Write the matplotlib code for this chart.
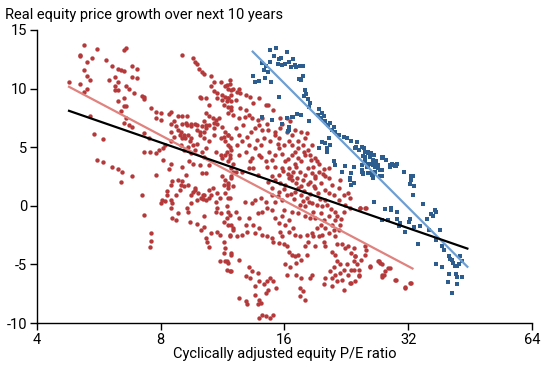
import numpy as np
import matplotlib
matplotlib.use("Agg")
import matplotlib.pyplot as plt

plt.rcParams['font.family'] = ['Roboto', 'DejaVu Sans']

# (P/E ratio, real equity price growth over next 10 years)
red_points = [
    (5.2, 13.7), (5.6, 13.4), (5.1, 12.9), (5.1, 12.8), (5.45, 12.6), (5.3, 12.3), (5.9, 12.4), (6.5, 13.3),
    (6.6, 13.5), (5.2, 11.6), (5.3, 11.1), (5.4, 10.7), (4.8, 10.6), (5.1, 10.4), (5.3, 10.0), (5.2, 9.7),
    (6.1, 11.9), (6.3, 11.7), (6.4, 11.6), (6.5, 11.5), (6.8, 11.9), (7.0, 11.7), (6.8, 11.0), (7.0, 10.9),
    (6.2, 11.0), (6.0, 10.7), (6.3, 10.6), (6.2, 10.2), (6.2, 9.9), (6.3, 9.9), (6.6, 10.2), (6.7, 10.0),
    (6.9, 9.6), (7.2, 9.4), (7.3, 9.3), (7.3, 9.1), (6.5, 9.2), (6.3, 8.9), (6.5, 8.5), (6.6, 8.5),
    (6.4, 8.1), (5.4, 7.7), (6.6, 7.5), (6.5, 7.1), (6.7, 6.9), (6.8, 6.7), (5.5, 6.1), (5.8, 5.7),
    (7.6, 8.3), (7.8, 8.0), (8.0, 7.9), (7.8, 7.5), (8.0, 7.3), (7.3, 6.2), (7.5, 5.8),
    (8.5, 8.0), (8.4, 7.8), (8.8, 7.7), (9.0, 7.7), (9.3, 7.7), (8.6, 7.2), (8.5, 7.0), (8.7, 6.8),
    (9.0, 7.0), (9.2, 7.1), (9.3, 6.9), (9.5, 7.0), (9.5, 6.8), (9.7, 7.0), (9.8, 6.9), (10.1, 6.8),
    (9.8, 6.5), (10.0, 6.3), (8.8, 6.5), (8.95, 6.3), (8.9, 6.0), (9.1, 6.0), (9.0, 5.8), (9.15, 5.8),
    (8.6, 5.9), (8.5, 6.3), (9.35, 6.0), (9.5, 5.8), (9.45, 5.5), (9.6, 5.2), (9.8, 5.3), (10.0, 6.0),
    (10.2, 5.8), (10.2, 6.3), (10.3, 6.6), (10.5, 6.9), (10.8, 7.1), (10.9, 7.3), (11.1, 7.5),
    (9.0, 12.9), (9.6, 12.6), (9.7, 12.3), (9.8, 12.1), (9.9, 11.7), (10.1, 11.4), (10.2, 11.2), (10.6, 11.1),
    (10.6, 10.2), (10.8, 10.6), (11.2, 10.6), (11.5, 10.2), (11.7, 10.0), (11.8, 10.4), (11.9, 9.9), (10.8, 9.8),
    (11.0, 9.6), (11.3, 9.45), (11.5, 9.3), (11.7, 9.2), (11.9, 8.9), (11.6, 8.9), (11.3, 9.0), (11.0, 9.2),
    (11.4, 8.6), (11.7, 8.45), (11.9, 8.2), (10.5, 8.6), (10.3, 9.2), (10.05, 9.2), (10.0, 9.3),
    (10.3, 7.9), (10.5, 7.7), (10.7, 7.5), (10.2, 7.2), (10.3, 6.9), (10.8, 6.6), (11.0, 7.0), (11.3, 6.75),
    (11.5, 6.3), (11.7, 6.0), (11.4, 5.9), (11.2, 5.8), (11.5, 5.5), (11.7, 5.2), (11.8, 5.0), (11.9, 4.8),
    (10.8, 6.0), (10.5, 5.5), (10.3, 4.9), (10.9, 4.6), (11.2, 4.3), (11.3, 4.1), (11.5, 4.3), (11.8, 4.1),
    (11.7, 3.8), (12.0, 3.6), (11.9, 3.2), (12.0, 2.9),
    (7.3, 4.6), (7.55, 4.6), (7.8, 4.5), (7.95, 4.8), (8.1, 4.9), (8.1, 3.9), (5.6, 3.9), (5.8, 3.7),
    (6.1, 3.3), (6.3, 3.1), (6.45, 2.9), (6.8, 2.5), (7.8, 2.6), (8.4, 3.1), (8.5, 3.6), (9.0, 3.35),
    (9.2, 2.6), (9.4, 3.8), (9.6, 3.6), (10.0, 3.5), (10.1, 2.8), (10.3, 2.8), (10.5, 3.5), (10.2, 4.2),
    (10.1, 4.6), (9.7, 4.8), (9.5, 4.5), (9.1, 4.8), (9.35, 5.0), (8.95, 5.2), (8.5, 5.5), (8.2, 5.2),
    (6.4, 2.0), (7.2, 0.9), (7.3, -0.8), (7.6, -2.3), (7.6, -3.0), (7.55, -3.5), (8.0, 0.2), (8.05, 0.5),
    (8.2, 0.4), (8.3, 0.9), (8.5, 0.5), (8.55, 0.2), (8.5, -0.2), (8.55, -1.05), (8.7, -1.2), (8.8, -0.6),
    (8.3, 1.3), (8.5, 1.8), (8.55, 2.1), (8.8, 2.2), (8.95, 1.8), (8.9, 1.35), (8.7, 0.9), (9.0, 2.1),
    (9.1, 1.65), (9.35, 1.8), (9.5, 0.95), (9.7, 1.35), (9.85, 1.1), (10.05, 0.65), (10.15, 0.95), (9.8, 0.5),
    (9.5, 0.2), (9.3, -0.15), (9.35, -0.55), (9.45, -1.35), (9.8, -1.55), (9.7, 1.5), (9.6, 1.2),
    (10.2, 0.95), (10.15, 0.6), (10.3, 0.5), (10.5, 0.65), (10.6, 0.95), (10.5, 1.35), (10.75, 1.5), (11.0, 1.1),
    (11.15, 0.65), (10.9, 0.35), (10.2, -0.9), (10.2, -1.8), (10.05, -2.05), (10.3, -2.75), (10.4, -3.05),
    (10.5, -3.55), (10.6, -2.3), (11.0, -2.2), (11.15, -2.45), (10.9, -0.5), (11.0, -0.2), (11.25, -0.6),
    (11.4, -1.35), (11.6, -1.05), (11.7, -0.5), (11.8, -0.75), (11.4, -3.05), (11.5, -3.6), (11.4, -4.0),
    (11.15, -4.75), (11.5, -4.75), (11.7, -4.9), (11.6, -5.45), (11.9, -5.6), (11.9, -4.0), (11.8, -2.45),
    (11.9, -1.6), (12.0, -2.05), (11.3, 2.5), (11.5, 2.2), (11.7, 1.95), (11.9, 2.35), (11.4, 1.8), (11.7, 1.5),
    (11.5, 1.1), (11.7, 0.65), (12.0, 1.65),
    (11.8, 10.7), (11.6, 10.3), (12.0, 10.0), (12.3, 9.7), (12.4, 10.0), (11.9, 9.45), (11.7, 9.2), (12.2, 9.0),
    (12.5, 9.6), (12.9, 9.45), (13.2, 9.3), (13.85, 9.2), (13.4, 8.75), (14.4, 8.6), (14.6, 8.6), (12.9, 8.2),
    (12.5, 8.3), (11.9, 8.45), (11.7, 7.9), (12.0, 7.75), (12.4, 7.5), (12.8, 7.6), (13.1, 7.75), (13.35, 7.5),
    (13.8, 7.3), (14.1, 7.5), (13.85, 6.9), (13.6, 6.6), (14.1, 6.5), (14.5, 7.0), (14.6, 6.5), (15.2, 6.3),
    (15.0, 8.2), (15.6, 7.5), (15.8, 7.0), (16.2, 7.5), (16.5, 7.2), (15.6, 6.6), (15.2, 6.0), (15.5, 5.8),
    (16.2, 6.3), (16.7, 6.0), (17.0, 6.5), (17.6, 6.3), (18.2, 6.2), (17.3, 5.5), (17.8, 5.2), (18.3, 4.8),
    (18.7, 5.2), (18.5, 4.3), (19.0, 4.1), (19.2, 3.8), (18.8, 3.35), (18.3, 3.2), (17.6, 3.8), (17.0, 4.6),
    (16.7, 5.2), (16.4, 5.5), (16.0, 5.2), (15.5, 4.9), (15.2, 4.3), (14.9, 3.9), (14.4, 3.8), (14.5, 3.35),
    (15.2, 3.35), (15.8, 3.2), (16.4, 3.2), (16.8, 2.9), (17.5, 2.9), (18.0, 2.6), (18.7, 2.8), (19.4, 2.9),
    (20.0, 3.1), (14.0, 5.2), (13.6, 4.9), (13.1, 5.2), (12.6, 5.5), (12.4, 6.0), (11.9, 5.8), (11.7, 6.0),
    (11.6, 4.6), (11.8, 4.3), (12.4, 4.3), (12.9, 4.6), (13.35, 4.1), (13.85, 4.3), (13.8, 2.6), (13.4, 3.2),
    (13.1, 3.2), (12.6, 2.9), (12.2, 2.9), (16.7, 4.3), (17.3, 4.1), (18.0, 4.3), (17.1, 3.35), (16.1, 3.8),
    (15.5, 2.6), (14.9, 2.5), (16.4, 2.35), (19.0, 2.35), (20.1, 2.5), (20.5, 3.2), (18.0, 5.8),
    (11.9, 2.5), (11.7, 1.8), (11.8, 0.65), (11.6, -0.05), (12.2, -0.5), (12.4, -1.05), (11.7, -1.6), (12.0, -1.9),
    (12.6, -2.45), (12.3, -2.6), (11.8, -2.6), (11.9, -4.2), (12.4, -4.6), (11.6, -4.75), (11.8, -5.6), (13.1, -5.2),
    (13.35, -5.6), (12.9, -6.0), (13.2, -6.15), (13.8, -5.7), (13.85, -6.45), (13.6, -6.85), (14.3, -6.7),
    (14.5, -6.45), (14.8, -6.15), (15.0, -6.45), (15.3, -7.0), (14.6, -7.15), (14.4, -7.4), (13.6, -7.6),
    (13.85, -8.0), (14.0, -8.3), (13.8, -8.4), (12.4, -7.85), (12.9, -8.15), (13.0, -8.4), (14.1, -9.3),
    (13.85, -9.6), (14.8, -9.6), (15.0, -9.3), (14.4, -9.4), (12.8, 0.35), (13.35, 0.2), (13.6, 0.5),
    (14.0, 0.65), (14.4, 0.35), (14.5, -0.2), (14.1, -0.5), (13.8, -0.6), (13.1, -1.05), (12.9, -1.6),
    (13.4, -1.6), (13.85, -1.9), (13.0, -2.2), (13.6, -2.3), (14.1, -2.45), (14.5, -2.6), (14.9, -2.75),
    (15.0, -3.05), (15.5, -3.2), (16.0, -3.3), (16.2, -3.45), (16.4, -3.9), (16.7, -4.2), (17.0, -4.3),
    (17.3, -4.2), (17.6, -4.6), (17.1, -4.9), (16.5, -5.2), (16.1, -5.0), (16.2, -5.9), (17.1, -5.9),
    (17.6, -6.15), (17.5, -7.0), (17.8, -7.3), (17.5, -7.7), (18.0, -8.0), (18.5, -6.15), (18.7, -5.9),
    (18.2, -4.2), (19.0, -3.45), (19.4, -2.6), (18.8, -2.6), (19.8, -2.45), (20.0, -3.05), (20.1, -3.45),
    (20.9, -3.9), (21.3, -4.2), (21.5, -4.75), (21.9, -5.0), (21.1, -5.2), (20.7, -5.6), (21.3, -5.9),
    (21.9, -5.7), (22.3, -5.45), (22.7, -5.0), (22.1, -6.3), (21.5, -6.45), (20.9, -6.15), (20.1, -6.15),
    (20.0, -6.7), (20.9, -6.85), (22.3, -7.15), (23.1, -6.6), (22.9, -5.9), (23.3, -5.45), (23.8, -4.3),
    (23.6, -4.75), (24.3, -5.9), (22.5, -3.6), (22.1, -3.3), (21.3, -2.6), (21.7, -2.05), (21.1, -2.05),
    (20.5, -2.3), (21.9, -1.6), (20.9, -1.6), (20.1, -1.9), (19.6, -1.6), (19.2, -1.9), (18.7, -2.3),
    (18.2, -2.45), (18.3, -3.05), (18.0, -3.45), (17.5, -2.6), (17.0, -2.45), (16.8, -1.9), (16.4, -2.2),
    (15.8, -2.6), (15.6, -2.2), (16.1, -1.6), (15.5, -1.45), (15.2, -1.05), (15.8, -0.9), (16.4, -1.2),
    (16.7, -0.5), (16.0, -0.35), (14.9, -0.35), (15.2, 0.35), (15.8, 0.5), (16.2, 0.95), (15.5, 1.2),
    (14.9, 1.5), (14.6, 2.05), (15.2, 2.2), (15.6, 1.95), (16.1, 1.8), (16.7, 2.2), (17.1, 1.95), (17.6, 1.65),
    (17.0, 1.2), (17.6, 0.95), (18.2, 0.65), (18.7, 0.2), (18.0, -0.05), (17.5, 0.1), (17.3, -0.6),
    (18.0, -0.9), (18.5, -1.05), (18.8, -0.5), (19.2, 0.1), (19.8, -0.05), (20.1, 0.5), (20.5, 1.1),
    (21.1, 0.95), (21.7, 0.5), (22.5, 0.1), (23.1, -0.2), (22.3, -0.5), (21.3, -0.5), (20.5, -0.9),
    (21.3, -1.2), (20.0, -1.2), (18.5, 2.05), (19.0, 1.5), (19.6, 1.95), (20.1, 1.35), (20.9, 1.8),
    (21.7, 1.5), (22.3, 0.95), (22.9, 1.1), (23.1, 0.65), (24.5, -0.2), (25.2, -0.2), (21.9, 2.2),
    (20.5, 2.35), (19.0, 2.5), (25.9, -5.2), (27.1, -4.75), (27.4, -4.9), (28.1, -5.6), (27.6, -5.9),
    (28.6, -5.3), (29.8, -6.3), (31.5, -7.0), (32.4, -6.6), (24.3, -5.45), (25.2, -4.2), (23.8, -6.45),
    (23.3, -4.0), (22.9, -3.45), (21.5, -3.3), (24.5, -0.15), (25.3, -0.15), (25.2, -3.45), (25.3, -3.8),
    (24.6, -4.65), (23.8, -4.3), (24.1, -5.0), (25.9, -5.1), (27.2, -4.75), (27.6, -4.95), (28.9, -5.3),
    (27.9, -5.9), (27.6, -6.1), (29.9, -6.3), (31.5, -6.95), (32.5, -6.55), (23.6, -5.45), (24.3, -5.95),
    (23.2, -6.6), (23.6, -3.6),
    (15.9, 3.0), (16.3, 2.7), (16.6, 2.5), (17.2, 2.4), (17.8, 2.2), (18.3, 1.9), (18.9, 1.7), (16.0, 1.4),
    (16.6, 1.0), (17.3, 1.5), (17.9, 1.3), (18.5, 1.0), (19.3, 1.1), (16.9, 0.6), (17.8, 0.4), (18.4, 0.3),
    (19.5, 0.6), (20.3, 0.1), (15.4, 0.8), (14.9, 0.9), (20.8, -0.3), (21.5, -0.9), (22.0, -1.1), (19.0, -1.0),
    (19.7, -0.6), (12.2, 6.6), (12.7, 6.9), (13.3, 6.3), (13.0, 5.9), (12.3, 5.2), (13.7, 5.6), (14.3, 5.8),
    (14.8, 5.5), (15.4, 5.3), (14.7, 4.6), (14.0, 4.2), (13.2, 3.8), (17.3, 4.9), (17.9, 4.6), (18.6, 3.9),
    (19.4, 3.6), (19.9, 2.7), (17.0, 3.6), (16.3, 4.0), (15.8, 4.4),
]

blue_points = [
    (14.8, 13.3), (15.3, 13.5), (16.2, 13.1), (15.1, 12.8), (15.5, 12.5), (15.7, 12.6), (14.8, 12.3),
    (15.4, 12.1), (15.8, 12.05), (16.1, 12.1), (16.4, 12.3), (16.8, 12.5), (17.0, 12.05), (16.6, 11.85),
    (17.1, 11.85), (17.5, 11.9), (17.8, 11.9), (14.1, 12.15), (14.4, 11.95), (14.3, 11.6), (14.6, 11.4),
    (13.4, 11.1), (14.35, 10.9), (13.6, 10.6), (13.9, 10.65), (14.85, 10.6), (17.8, 11.1), (17.4, 10.8),
    (17.6, 10.7), (15.5, 9.3), (18.0, 9.9), (18.1, 9.5), (17.9, 9.35), (18.3, 9.15), (18.5, 8.8),
    (18.4, 8.45), (19.4, 8.25), (19.8, 7.9), (20.0, 7.7), (19.3, 7.75), (19.6, 7.5), (18.4, 7.25),
    (20.1, 7.2), (20.4, 6.9), (20.7, 7.05), (21.1, 6.75), (20.9, 6.5), (21.3, 6.3), (21.7, 6.05),
    (22.3, 5.9), (22.7, 5.75), (23.3, 5.5), (24.0, 5.45), (20.5, 5.75), (20.1, 5.35), (19.8, 5.45),
    (19.4, 4.9), (20.3, 4.9), (20.3, 4.6), (20.7, 5.2), (23.8, 4.9), (24.3, 4.75), (24.7, 5.05),
    (25.2, 4.6), (25.6, 4.5), (25.2, 4.2), (25.9, 4.2), (26.3, 3.9), (26.8, 3.8), (27.6, 4.2), (28.3, 3.9),
    (26.1, 3.6), (26.6, 3.35), (27.1, 3.2), (27.6, 3.05), (25.6, 3.35), (25.2, 3.8), (24.7, 2.9),
    (23.3, 2.8), (22.5, 3.4), (22.1, 2.9), (21.1, 3.8), (21.3, 3.5), (26.1, 2.65), (27.4, 2.5),
    (28.9, 3.5), (29.5, 3.45), (30.0, 3.55), (31.3, 2.9), (32.6, 2.5), (23.1, 2.35), (14.1, 7.6),
    (16.2, 7.45), (17.2, 7.85), (17.6, 7.75), (16.8, 7.6), (16.4, 6.5), (14.9, 7.3), (15.8, 7.0),
    (16.4, 6.75), (16.3, 6.4), (16.7, 7.55),
    (23.7, 3.35), (24.7, 3.5), (25.6, 3.6), (26.3, 3.5), (27.1, 3.5), (24.9, 2.8), (25.9, 2.8),
    (26.3, 2.35), (27.6, 2.5), (28.9, 3.35), (29.8, 3.4), (28.3, 3.9), (31.3, 2.9), (32.9, 2.5),
    (32.6, 2.2), (32.4, 1.9), (33.1, 1.7), (32.9, 0.95), (34.8, 0.15), (36.4, -0.7), (36.8, -0.9),
    (37.1, -0.4), (37.5, -0.55), (35.6, -1.1), (38.2, -2.05), (36.0, -2.1), (34.2, -1.75), (33.1, -1.8),
    (32.4, -1.15), (32.2, -1.35), (31.5, -2.25), (30.1, -0.55), (29.0, -0.2), (29.0, -0.4), (28.1, -0.25),
    (28.6, -1.2), (27.6, -1.2), (30.0, -1.15), (30.6, -1.5), (30.4, -1.75), (26.5, 0.3), (23.6, 1.95),
    (23.1, 2.2), (23.3, 1.8), (33.8, -3.3), (37.5, -2.9), (38.7, -3.45), (39.2, -3.8), (40.3, -4.25),
    (41.0, -4.6), (41.6, -5.1), (42.2, -5.15), (42.8, -4.25), (43.3, -4.75), (37.5, -4.95), (38.7, -5.25),
    (40.3, -5.85), (41.8, -5.85), (42.1, -6.1), (43.3, -6.1), (40.1, -6.5), (42.2, -6.7), (41.0, -7.4),
    (40.5, -4.55), (41.2, -4.9), (42.6, -5.0),
    (23.3, 5.55), (24.0, 5.45), (23.9, 5.05), (24.7, 5.05), (25.0, 4.9), (25.6, 4.6), (26.0, 4.5),
    (26.5, 4.35), (24.8, 4.25), (27.8, 4.2), (28.3, 3.9), (27.6, 4.05), (29.2, 3.6), (29.9, 3.4),
    (28.9, 3.35), (31.2, 2.9), (32.9, 2.5), (23.7, 3.35), (24.7, 3.05), (25.4, 3.35), (26.0, 3.6),
    (26.8, 3.5), (27.4, 3.05), (26.6, 2.9), (25.6, 2.8), (26.3, 2.5), (27.6, 2.5), (24.9, 2.7), (23.1, 2.35),
]

# fitted lines (end points)
all_fit_pe = [4.79, 44.6]
all_fit_growth = [8.1, -3.65]
red_fit_pe = [4.79, 32.8]
red_fit_growth = [10.15, -5.35]
blue_fit_pe = [13.4, 44.6]
blue_fit_growth = [13.15, -5.2]

xticks = [4, 8, 16, 32, 64]
yticks = [-10, -5, 0, 5, 10, 15]

red = np.array(red_points)
blue = np.array(blue_points)

fig = plt.figure(figsize=(5.5, 3.65), dpi=100)
ax = fig.add_axes([0.067, 0.115, 0.9, 0.803])

ax.scatter(red[:, 0], red[:, 1], s=10, color='#B5393A', marker='o', linewidths=0, zorder=2)
ax.scatter(blue[:, 0], blue[:, 1], s=12, color='#2C5D8E', marker='s', linewidths=0, zorder=2)
ax.plot(red_fit_pe, red_fit_growth, color='#E0827E', lw=1.6, zorder=3)
ax.plot(blue_fit_pe, blue_fit_growth, color='#6E9FD2', lw=1.6, zorder=3)
ax.plot(all_fit_pe, all_fit_growth, color='black', lw=1.6, zorder=4)

ax.set_xscale('log', base=2)
ax.set_xlim(4, 64)
ax.set_ylim(-10, 15)
ax.set_xticks(xticks)
ax.set_xticklabels([str(t) for t in xticks])
ax.xaxis.set_minor_locator(matplotlib.ticker.NullLocator())
ax.set_yticks(yticks)
ax.set_yticklabels([str(t) for t in yticks])

for side in ['top', 'right']:
    ax.spines[side].set_visible(False)
for side in ['left', 'bottom']:
    ax.spines[side].set_linewidth(1.0)
ax.tick_params(axis='both', length=5, width=1.0, labelsize=10.5, colors='black', pad=2)

ax.set_xlabel("Cyclically adjusted equity P/E ratio", fontsize=10.5, labelpad=0)
fig.text(0.009, 0.958, "Real equity price growth over next 10 years", fontsize=10.5, va='center', ha='left')

fig.savefig("out.png", dpi=100)
